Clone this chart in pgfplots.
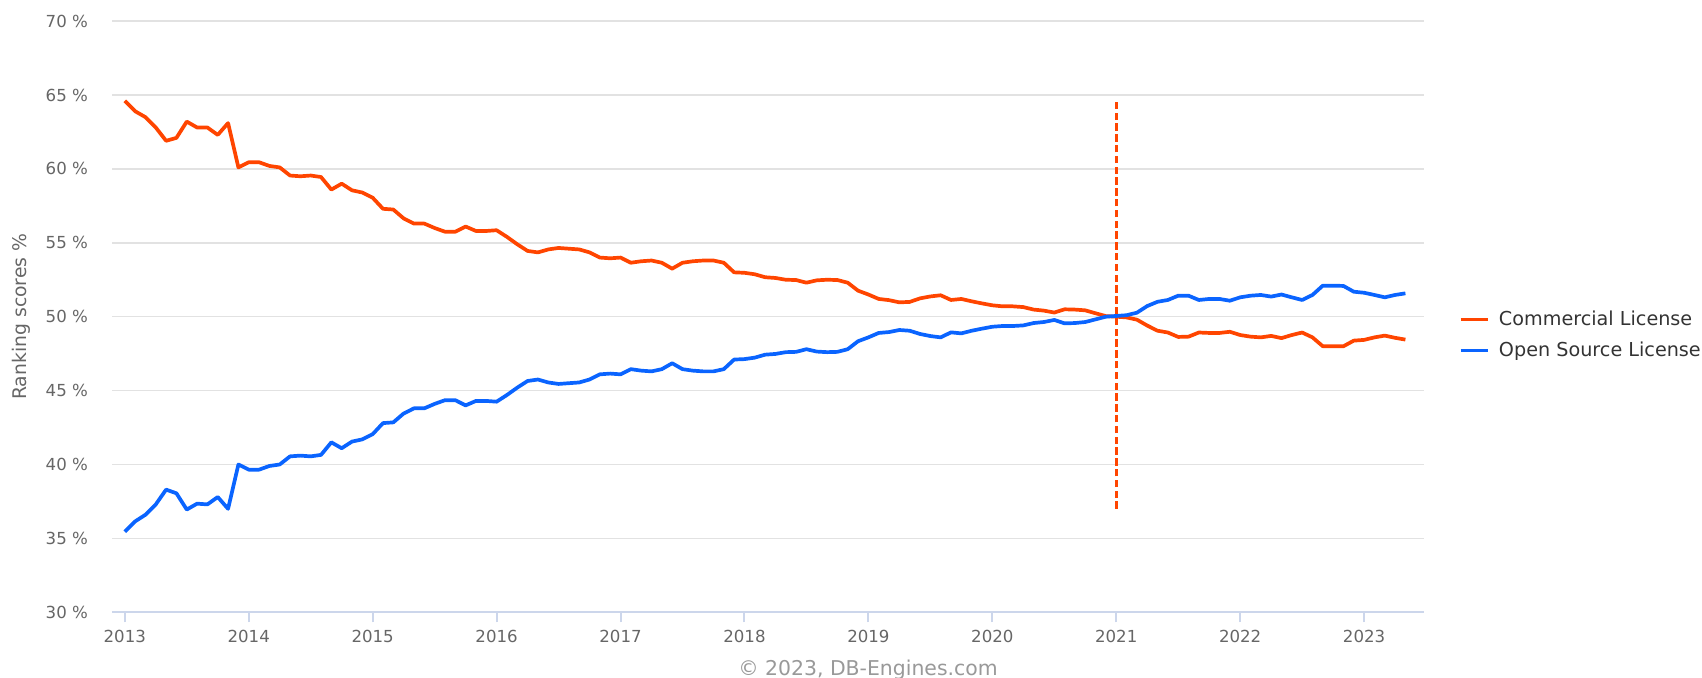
\documentclass[border=0pt]{standalone}
\usepackage{fontspec}
\setmainfont{DejaVu Sans}
\usepackage{pgfplots}
\pgfplotsset{compat=1.18}
\usepackage{pgfplotstable}
\definecolor{corange}{HTML}{FF4500}
\definecolor{cblue}{HTML}{0A64FF}
\definecolor{cgrid}{HTML}{E2E2E2}
\definecolor{caxis}{HTML}{CCD6EB}
\definecolor{ctext}{HTML}{666666}
\definecolor{clegend}{HTML}{333333}
\definecolor{ccopy}{HTML}{999999}

\pgfplotstableread{
m comm open
0 64.60 35.45
1 63.90 36.15
2 63.50 36.60
3 62.80 37.30
4 61.90 38.30
5 62.10 38.05
6 63.20 36.95
7 62.80 37.35
8 62.80 37.30
9 62.30 37.80
10 63.10 37.00
11 60.10 40.00
12 60.45 39.65
13 60.45 39.65
14 60.20 39.90
15 60.10 40.00
16 59.55 40.55
17 59.50 40.60
18 59.55 40.55
19 59.45 40.65
20 58.60 41.50
21 59.00 41.10
22 58.55 41.55
23 58.40 41.70
24 58.05 42.05
25 57.30 42.80
26 57.25 42.85
27 56.65 43.45
28 56.30 43.80
29 56.30 43.80
30 56.00 44.10
31 55.75 44.35
32 55.75 44.35
33 56.10 44.00
34 55.80 44.30
35 55.80 44.30
36 55.85 44.25
37 55.40 44.70
38 54.90 45.20
39 54.45 45.65
40 54.35 45.75
41 54.55 45.55
42 54.65 45.45
43 54.60 45.50
44 54.55 45.55
45 54.35 45.75
46 54.00 46.10
47 53.95 46.15
48 54.00 46.10
49 53.65 46.45
50 53.75 46.35
51 53.80 46.30
52 53.65 46.45
53 53.25 46.85
54 53.65 46.45
55 53.75 46.35
56 53.80 46.30
57 53.80 46.30
58 53.65 46.45
59 53.00 47.10
60 52.97 47.13
61 52.87 47.23
62 52.67 47.43
63 52.62 47.48
64 52.50 47.60
65 52.48 47.62
66 52.30 47.80
67 52.46 47.64
68 52.50 47.60
69 52.48 47.62
70 52.30 47.80
71 51.76 48.34
72 51.50 48.60
73 51.20 48.90
74 51.12 48.96
75 50.97 49.10
76 51.00 49.05
77 51.24 48.83
78 51.37 48.69
79 51.45 48.60
80 51.13 48.94
81 51.20 48.87
82 51.04 49.05
83 50.90 49.19
84 50.77 49.32
85 50.70 49.37
86 50.70 49.37
87 50.65 49.41
88 50.48 49.57
89 50.41 49.64
90 50.28 49.78
91 50.50 49.55
92 50.48 49.57
93 50.43 49.64
94 50.23 49.82
95 50.04 50.00
96 50.00 50.05
97 49.95 50.10
98 49.80 50.27
99 49.40 50.72
100 49.05 51.01
101 48.93 51.13
102 48.63 51.42
103 48.65 51.42
104 48.93 51.13
105 48.90 51.20
106 48.90 51.20
107 48.98 51.08
108 48.76 51.31
109 48.65 51.42
110 48.60 51.47
111 48.70 51.36
112 48.55 51.50
113 48.76 51.31
114 48.93 51.13
115 48.60 51.47
116 48.00 52.10
117 48.00 52.10
118 48.00 52.08
119 48.38 51.69
120 48.43 51.62
121 48.60 51.47
122 48.72 51.31
123 48.57 51.47
124 48.45 51.58
}\licdata

\begin{document}
\begin{tikzpicture}
\begin{axis}[
  name=ax,
  scale only axis, width=656pt, height=295.6pt,
  xmin=-1.24, xmax=125.8, ymin=30, ymax=70,
  xtick={0,12,24,36,48,60,72,84,96,108,120},
  xticklabels={2013,2014,2015,2016,2017,2018,2019,2020,2021,2022,2023},
  ytick={30,35,40,45,50,55,60,65,70},
  /pgf/number format/assume math mode=true,
  yticklabel={\pgfmathprintnumber{\tick} \%},
  axis x line*=bottom, axis y line*=left,
  x axis line style={caxis, line width=1pt, -},
  y axis line style={draw=none},
  ytick style={draw=none},
  xtick style={caxis, line width=1pt},
  tick align=outside, major tick length=5pt,
  ymajorgrids, grid style={cgrid, line width=0.8pt},
  tick label style={font=\fontsize{8.3}{10}\selectfont, text=ctext},
  yticklabel style={anchor=east, inner sep=0pt, xshift=-6.85pt},
  xticklabel style={anchor=north, inner sep=0pt, yshift=-3.6pt},
  every axis y label/.style={at={(axis description cs:-0.069,0.5)}, rotate=90, anchor=center, font=\fontsize{9.4}{11}\selectfont, text=ctext},
  ylabel={Ranking scores \%},
  legend style={draw=none, fill=none, at={(axis description cs:1.0262,0.469)}, anchor=west, inner sep=0pt, font=\fontsize{9.6}{11}\selectfont, text=clegend, row sep=6.7pt, nodes={inner sep=0pt}, /tikz/every odd column/.append style={column sep=4.8pt}},
  legend cell align=left,
  legend image code/.code={\draw[#1, line width=1.8pt] (0pt,0pt) -- (13.5pt,0pt);},
]
\addplot[corange, line width=1.85pt, line join=round] table[x=m, y=comm] {\licdata};
\addlegendentry{Commercial License}
\addplot[cblue, line width=1.85pt, line join=round] table[x=m, y=open] {\licdata};
\addlegendentry{Open Source License}
\addplot[corange, line width=1.35pt, dash pattern=on 3.7pt off 1.7pt, forget plot] coordinates {(96,37.0) (96,64.5)};
\end{axis}
\path (ax.south west) ++(378pt,-28.6pt) node[font=\fontsize{10.2}{12}\selectfont, text=ccopy] {\textcopyright{} 2023, DB-Engines.com};
\pgfresetboundingbox
\path[use as bounding box] (ax.south west) ++(-56pt,-32.85pt) rectangle ++(851pt,339pt);
\end{tikzpicture}
\end{document}
